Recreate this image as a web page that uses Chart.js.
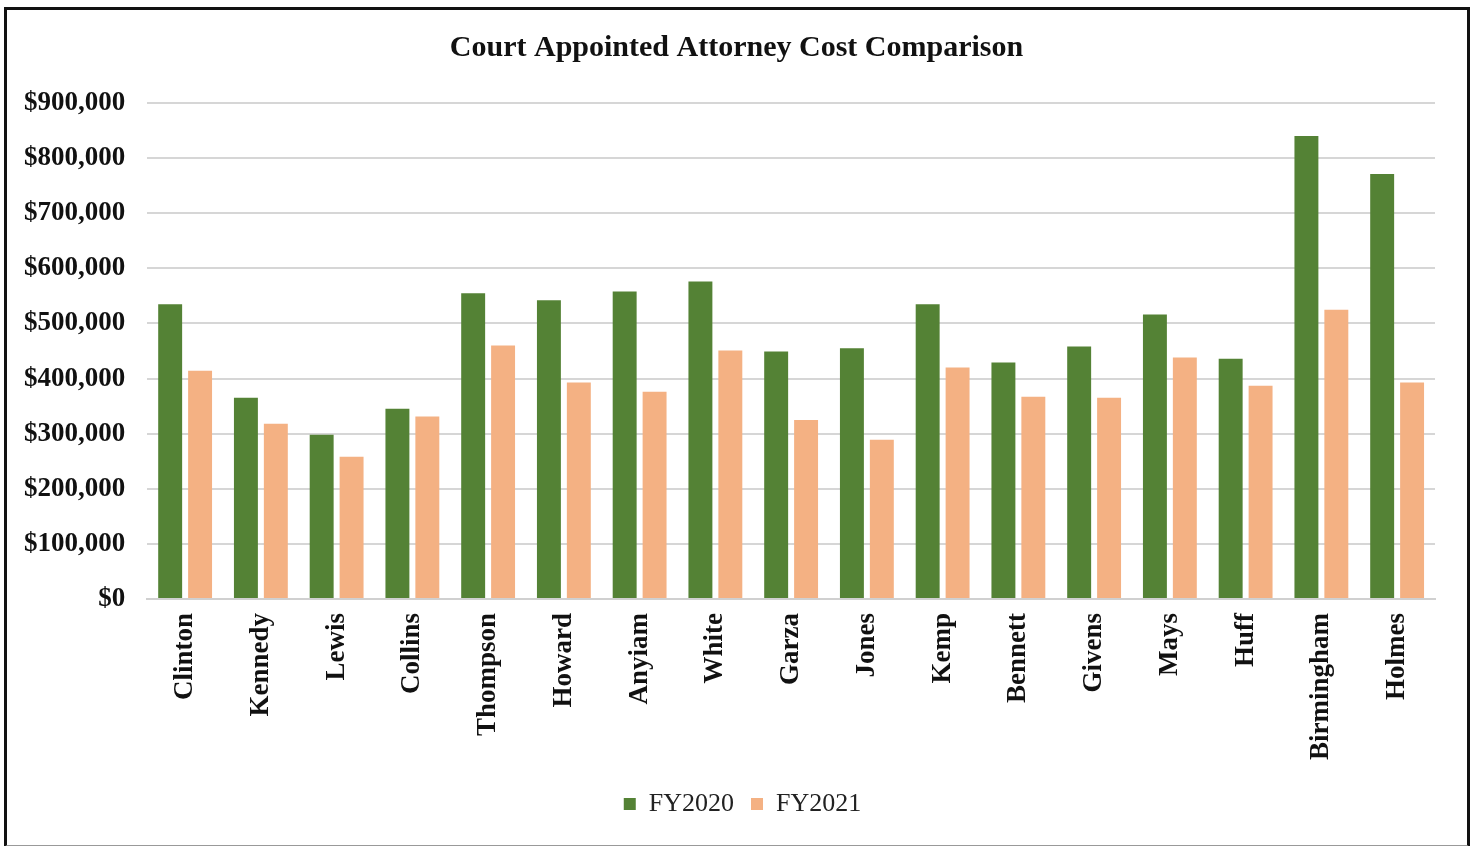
<!DOCTYPE html>
<html>
<head>
<meta charset="utf-8">
<script src="https://cdn.jsdelivr.net/npm/chart.js@4/dist/chart.umd.min.js"></script>
<style>
  html, body { margin: 0; padding: 0; background: #ffffff; }
  #wrap { position: absolute; left: 0; top: 0; width: 1476px; height: 846px; }
  #frame { position: absolute; left: 4px; top: 7px; width: 1466px; height: 840px;
           border-left: 3px solid #111; border-top: 3px solid #111; border-right: 3px solid #111;
           border-bottom: 2px solid #999; box-sizing: border-box; pointer-events: none; }
</style>
</head>
<body>
<div id="wrap">
  <canvas id="c" width="1476" height="846"></canvas>
  <div id="frame"></div>
</div>
<script>
const chartTitle = "Court Appointed Attorney Cost Comparison";
const categories = ["Clinton","Kennedy","Lewis","Collins","Thompson","Howard","Anyiam","White","Garza","Jones","Kemp","Bennett","Givens","Mays","Huff","Birmingham","Holmes"];
const seriesNames = ["FY2020","FY2021"];
const fy2020 = [535000,365000,298000,345000,555000,542000,558000,576000,449000,455000,535000,429000,458000,516000,436000,840000,771000];
const fy2021 = [414000,318000,258000,331000,460000,393000,376000,451000,325000,289000,420000,367000,365000,438000,387000,525000,393000];
const yTicks = [0,100000,200000,300000,400000,500000,600000,700000,800000,900000];

const serif = "'Liberation Serif', 'Times New Roman', serif";

const boxShift = {
  id: 'boxShift',
  beforeDraw(chart) {
    const lg = chart.legend;
    if (lg && !lg._shifted) { lg.left += 24; lg.right += 24; lg._shifted = true; }
    const tt = chart.titleBlock;
    if (tt && !tt._shifted) { tt.left += 18; tt.right += 18; tt._shifted = true; }
  }
};

new Chart(document.getElementById('c'), {
  type: 'bar',
  data: {
    labels: categories,
    datasets: [
      { label: seriesNames[0], data: fy2020, backgroundColor: '#548235', borderWidth: 0,
        barPercentage: 0.8, categoryPercentage: 0.79 },
      { label: seriesNames[1], data: fy2021, backgroundColor: '#F4B183', borderWidth: 0,
        barPercentage: 0.8, categoryPercentage: 0.79 }
    ]
  },
  plugins: [boxShift],
  options: {
    responsive: false,
    animation: false,
    devicePixelRatio: 1,
    layout: { padding: { left: 2, right: 41, top: 18, bottom: 19 } },
    plugins: {
      title: {
        display: true, text: chartTitle, color: '#111',
        font: { family: serif, size: 30, weight: 'bold' },
        padding: { top: 12, bottom: 37 }
      },
      legend: {
        position: 'bottom',
        labels: {
          color: '#222', font: { family: serif, size: 26 },
          boxWidth: 12, boxHeight: 12, padding: 17
        }
      },
      tooltip: { enabled: false }
    },
    scales: {
      x: {
        grid: { display: false, drawTicks: false },
        border: { display: true, color: '#d0d0d0', width: 2 },
        ticks: {
          color: '#111', font: { family: serif, size: 27, weight: 'bold' },
          maxRotation: 90, minRotation: 90, padding: 14, autoSkip: false
        }
      },
      y: {
        min: 0, max: 900000,
        afterBuildTicks: (axis) => { axis.ticks = yTicks.map(v => ({ value: v })); },
        grid: { color: '#d6d6d6', lineWidth: 2, drawTicks: false },
        border: { display: false },
        ticks: {
          color: '#111', font: { family: serif, size: 27, weight: 'bold' }, padding: 22,
          callback: (v) => '$' + Number(v).toLocaleString('en-US')
        }
      }
    }
  }
});
</script>
</body>
</html>
